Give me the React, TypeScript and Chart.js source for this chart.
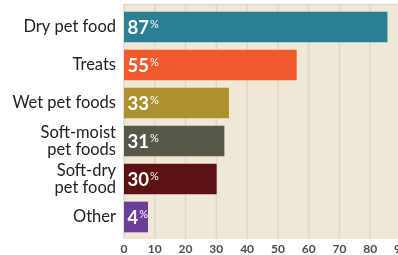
import React, { useEffect, useRef } from "react";
import { Chart, registerables } from "chart.js";

Chart.register(...registerables);

const categories: (string | string[])[] = [
  "Dry pet food",
  "Treats",
  "Wet pet foods",
  ["Soft-moist", "pet foods"],
  ["Soft-dry", "pet food"],
  "Other",
];
const barValues = [85.5, 56, 34, 32.5, 30, 7.7];
const shareLabels = [87, 55, 33, 31, 30, 4];
const barColors = ["#2b7f93", "#f05a2c", "#ae912f", "#57584a", "#5e1113", "#6b3d9a"];
const xMin = 0;
const xMax = 90;
const xStep = 10;

const frame = {
  id: "frame",
  beforeDatasetsDraw(chart: any) {
    const { ctx, chartArea } = chart;
    const { left, right, top, bottom } = chartArea;
    const x = chart.scales.x;
    ctx.save();
    ctx.fillStyle = "#efe8d6";
    ctx.fillRect(left, top - 4, right - left + 4, bottom - top + 7);
    ctx.strokeStyle = "#dcd8cf";
    ctx.lineWidth = 1.5;
    ctx.beginPath();
    ctx.moveTo(left, top - 3.5);
    ctx.lineTo(right + 4, top - 3.5);
    ctx.stroke();
    for (const t of x.ticks) {
      const px = x.getPixelForValue(t.value);
      ctx.beginPath();
      ctx.moveTo(px, top - 4);
      ctx.lineTo(px, bottom + 3);
      ctx.stroke();
    }
    ctx.restore();
  },
  afterDatasetsDraw(chart: any) {
    const { ctx } = chart;
    const meta = chart.getDatasetMeta(0);
    ctx.save();
    ctx.fillStyle = "#ffffff";
    ctx.textBaseline = "alphabetic";
    meta.data.forEach((bar: any, i: number) => {
      const num = String(shareLabels[i]);
      const x0 = bar.base + 3.5;
      const y = bar.y + 6.5;
      ctx.font = "bold 18.5px Lato";
      ctx.textAlign = "left";
      ctx.fillText(num, x0, y);
      const w = ctx.measureText(num).width;
      ctx.font = "11px Lato";
      ctx.fillText("%", x0 + w + 1, y - 6);
    });
    ctx.restore();
  },
};

export default function App() {
  const ref = useRef<HTMLCanvasElement>(null);
  useEffect(() => {
    document.body.style.margin = "0";
    document.body.style.overflow = "hidden";
    document.documentElement.style.overflow = "hidden";
    const chart = new Chart(ref.current!, {
      type: "bar",
      data: {
        labels: categories,
        datasets: [
          {
            data: barValues,
            backgroundColor: barColors,
            barThickness: 30,
            borderWidth: 0,
          },
        ],
      },
      plugins: [frame],
      options: {
        indexAxis: "y",
        animation: false,
        responsive: false,
        devicePixelRatio: 1,
        layout: { padding: { top: 8, right: 0, left: 0, bottom: 0 } },
        plugins: { legend: { display: false }, tooltip: { enabled: false } },
        scales: {
          x: {
            min: xMin,
            max: xMax,
            border: { display: false },
            grid: { display: false, drawTicks: false },
            ticks: {
              stepSize: xStep,
              color: "#4d4d4d",
              font: { family: "Lato", size: 12, weight: "bold" },
              padding: 6,
              maxRotation: 0,
              autoSkip: false,
            },
            afterFit(s: any) {
              s.height = 19;
              s.paddingLeft = 0;
              s.paddingRight = 0;
            },
          },
          y: {
            border: { display: false },
            grid: { display: false, drawTicks: false },
            ticks: {
              color: "#222222",
              font: { family: "Lato", size: 16.5, lineHeight: 1.05 },
              padding: 8,
              autoSkip: false,
            },
            afterFit(s: any) {
              s.width = 124;
              s.paddingTop = 0;
              s.paddingBottom = 0;
            },
          },
        },
      },
    });
    return () => chart.destroy();
  }, []);
  return (
    <div style={{ width: 401, height: 255 }}>
      <canvas ref={ref} width={401} height={255} style={{ display: "block" }} />
    </div>
  );
}
